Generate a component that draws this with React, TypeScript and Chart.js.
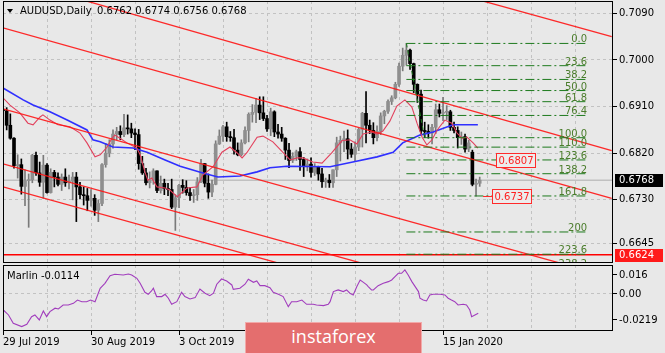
import { useEffect, useRef } from 'react';
import { Chart, registerables } from 'chart.js';
Chart.register(...registerables);

const FONT = '"DejaVu Sans", Verdana, sans-serif';

// ---- Daily AUDUSD candles (29 Jul 2019 .. 29 Jan 2020), index = bar number ----
const opens = [0.6905,0.6902,0.6874,0.6849,0.6796,0.6798,0.6756,0.6767,0.6769,0.6816,0.6782,0.6764,0.6797,0.6744,0.6783,0.6774,0.6760,0.6774,0.6763,0.6766,0.6774,0.6755,0.6740,0.6738,0.6729,0.6733,0.6710,0.6723,0.6798,0.6820,0.6838,0.6857,0.6862,0.6856,0.6869,0.6867,0.6859,0.6856,0.6800,0.6782,0.6763,0.6768,0.6786,0.6748,0.6762,0.6752,0.6750,0.6716,0.6734,0.6758,0.6754,0.6744,0.6738,0.6740,0.6765,0.6800,0.6762,0.6745,0.6760,0.6838,0.6853,0.6871,0.6852,0.6850,0.6826,0.6817,0.6840,0.6864,0.6895,0.6899,0.6913,0.6898,0.6887,0.6867,0.6900,0.6861,0.6857,0.6849,0.6826,0.6806,0.6814,0.6823,0.6808,0.6796,0.6799,0.6783,0.6794,0.6780,0.6765,0.6768,0.6763,0.6788,0.6840,0.6845,0.6848,0.6828,0.6818,0.6832,0.6866,0.6897,0.6874,0.6864,0.6850,0.6862,0.6892,0.6901,0.6920,0.6927,0.6953,0.6988,0.7009,0.7019,0.6993,0.6953,0.6934,0.6863,0.6862,0.6859,0.6870,0.6904,0.6897,0.6899,0.6900,0.6870,0.6864,0.6850,0.6852,0.6828,0.6822,0.6760,0.6762];
const highs = [0.6918,0.6908,0.6896,0.6850,0.6817,0.6809,0.6788,0.6780,0.6818,0.6822,0.6803,0.6816,0.6800,0.6790,0.6787,0.6782,0.6780,0.6790,0.6778,0.6783,0.6783,0.6764,0.6755,0.6752,0.6750,0.6740,0.6730,0.6800,0.6839,0.6846,0.6865,0.6870,0.6873,0.6895,0.6894,0.6878,0.6867,0.6866,0.6814,0.6791,0.6784,0.6790,0.6786,0.6776,0.6770,0.6762,0.6770,0.6740,0.6760,0.6769,0.6767,0.6754,0.6750,0.6773,0.6808,0.6800,0.6780,0.6768,0.6844,0.6865,0.6874,0.6880,0.6862,0.6866,0.6840,0.6846,0.6871,0.6898,0.6914,0.6926,0.6929,0.6929,0.6893,0.6907,0.6902,0.6876,0.6870,0.6850,0.6839,0.6821,0.6826,0.6831,0.6812,0.6809,0.6811,0.6800,0.6795,0.6791,0.6772,0.6779,0.6788,0.6851,0.6853,0.6863,0.6865,0.6839,0.6842,0.6868,0.6899,0.6939,0.6884,0.6879,0.6873,0.6898,0.6903,0.6923,0.6931,0.6957,0.6994,0.7023,0.7032,0.7021,0.6994,0.6954,0.6942,0.6880,0.6875,0.6876,0.6915,0.6915,0.6928,0.6912,0.6903,0.6880,0.6871,0.6861,0.6857,0.6845,0.6826,0.6770,0.6774];
const lows = [0.6887,0.6865,0.6847,0.6791,0.6772,0.6741,0.6719,0.6677,0.6763,0.6777,0.6756,0.6733,0.6743,0.6743,0.6755,0.6757,0.6748,0.6756,0.6751,0.6730,0.6688,0.6732,0.6720,0.6709,0.6718,0.6700,0.6688,0.6719,0.6793,0.6813,0.6830,0.6846,0.6846,0.6852,0.6857,0.6850,0.6827,0.6789,0.6779,0.6759,0.6753,0.6760,0.6744,0.6743,0.6740,0.6738,0.6713,0.6671,0.6715,0.6743,0.6739,0.6729,0.6725,0.6729,0.6763,0.6755,0.6733,0.6736,0.6759,0.6837,0.6843,0.6843,0.6843,0.6818,0.6815,0.6815,0.6838,0.6842,0.6880,0.6879,0.6885,0.6883,0.6862,0.6854,0.6852,0.6849,0.6843,0.6808,0.6792,0.6802,0.6806,0.6787,0.6775,0.6786,0.6774,0.6777,0.6768,0.6754,0.6754,0.6754,0.6754,0.6775,0.6805,0.6823,0.6809,0.6812,0.6805,0.6825,0.6832,0.6840,0.6858,0.6838,0.6844,0.6856,0.6877,0.6897,0.6914,0.6925,0.6949,0.6979,0.6990,0.6982,0.6937,0.6918,0.6856,0.6850,0.6849,0.6838,0.6858,0.6890,0.6883,0.6885,0.6864,0.6859,0.6830,0.6837,0.6822,0.6823,0.6757,0.6737,0.6756];
const closes = [0.6902,0.6874,0.6849,0.6796,0.6798,0.6756,0.6767,0.6769,0.6816,0.6782,0.6764,0.6797,0.6744,0.6783,0.6774,0.6760,0.6774,0.6763,0.6766,0.6774,0.6755,0.6740,0.6738,0.6729,0.6733,0.6710,0.6723,0.6798,0.6820,0.6838,0.6857,0.6862,0.6856,0.6869,0.6867,0.6859,0.6856,0.6800,0.6782,0.6763,0.6768,0.6786,0.6748,0.6762,0.6752,0.6750,0.6716,0.6734,0.6758,0.6754,0.6744,0.6738,0.6740,0.6765,0.6800,0.6762,0.6745,0.6760,0.6838,0.6853,0.6871,0.6852,0.6850,0.6826,0.6817,0.6840,0.6864,0.6895,0.6899,0.6913,0.6898,0.6887,0.6867,0.6900,0.6861,0.6857,0.6849,0.6826,0.6806,0.6814,0.6823,0.6808,0.6796,0.6799,0.6783,0.6794,0.6780,0.6765,0.6768,0.6763,0.6788,0.6840,0.6845,0.6848,0.6828,0.6818,0.6832,0.6866,0.6897,0.6874,0.6864,0.6850,0.6862,0.6892,0.6901,0.6920,0.6927,0.6953,0.6988,0.7009,0.7019,0.6993,0.6953,0.6934,0.6863,0.6862,0.6859,0.6870,0.6904,0.6897,0.6899,0.6900,0.6870,0.6864,0.6850,0.6852,0.6828,0.6840,0.6760,0.6762,0.6768];

// ---- moving averages (bar index, price) ----
const maSlowIdx = [0,5.5,8.2,12.8,17.5,22.9,24.5,26.5,30,35.5,39.3,44.2,48.3,54.5,58.6,64.6,69.3,72.8,77.4,89.2,95.4,102,106.4,109,113.7,117.3,122.7,129.5];
const maSlowVal = [0.6946,0.6923,0.6913,0.6900,0.6884,0.6865,0.6846,0.6842,0.6832,0.6830,0.6822,0.6807,0.6795,0.6782,0.6774,0.6776,0.6784,0.6792,0.6795,0.6794,0.6803,0.6813,0.6822,0.6840,0.6855,0.6861,0.6875,0.6875];
const maFastIdx = [0,1.9,4.6,6.8,8.2,10.1,10.9,12.8,15,18.3,21,22.9,25.1,26.5,28.4,29.7,30.5,31.9,33.8,36.5,37.4,38.7,39.5,40.6,42,44.2,45.5,47.5,50.2,52.9,54.5,57.3,59.7,61.9,63.8,65.2,66.5,69.3,70.9,73.6,76.4,78.3,80.2,81.8,84.5,87,89.7,92.4,94.6,96.5,98.2,100.6,102,103.6,105.5,107.4,109.6,111.5,112.9,114.3,115.6,117,118.4,120.5,122.4,123.8,125.2,126.5,128.2,129.5];
const maFastVal = [0.6927,0.6913,0.6898,0.6878,0.6875,0.6890,0.6894,0.6884,0.6875,0.6871,0.6859,0.6840,0.6813,0.6817,0.6832,0.6849,0.6855,0.6849,0.6840,0.6830,0.6817,0.6784,0.6768,0.6772,0.6755,0.6753,0.6749,0.6736,0.6753,0.6755,0.6778,0.6794,0.6822,0.6832,0.6821,0.6811,0.6821,0.6851,0.6853,0.6842,0.6821,0.6807,0.6811,0.6811,0.6803,0.6801,0.6821,0.6844,0.6846,0.6838,0.6857,0.6861,0.6857,0.6863,0.6882,0.6911,0.6923,0.6909,0.6878,0.6851,0.6836,0.6846,0.6865,0.6884,0.6878,0.6859,0.6849,0.6851,0.6840,0.6830];

// ---- Marlin oscillator ----
const marlinIdx = [0.1,1.5,2.8,5.1,6.5,7.8,8.7,9.9,11,11.9,12.8,14.2,15.1,16.4,17.8,19.2,20.3,21.5,22.8,23.9,25.1,26.5,27.8,29.2,30.5,32.8,34.2,35.1,36.5,37.4,38.7,39.6,40.5,41,41.9,43.3,44.2,45.1,46,47.4,48.7,49.6,51,52.4,53.7,55.1,56.4,57.4,58.3,59.6,61,62.4,62.8,64.6,66,66.9,68.3,69.2,70.1,71.4,72.8,73.7,75.1,76.4,77.8,78.7,80.1,81.5,82.8,84.6,85.5,87.4,88.7,89.2,90.1,91.4,92.8,93.7,94.6,95.5,96.5,97.4,98.3,99.2,99.6,100.5,101,102.3,103.7,105.1,106,106.9,107.8,108.7,109.6,110.5,111.5,112.4,113.3,113.7,114.6,115.5,116.4,117.3,119.2,120.5,121.4,122.3,123.2,124.1,125.5,126.4,127.3,127.8,128.7,129.6];
const marlinVal = [-0.0135,-0.0177,-0.0247,-0.0275,-0.0255,-0.0191,-0.0177,-0.0219,-0.0143,-0.0191,-0.0149,-0.0120,-0.0126,-0.0093,-0.0093,-0.0079,-0.0051,-0.0065,-0.0065,-0.0051,-0.0065,0.0048,0.0090,0.0154,0.0166,0.0160,0.0168,0.0160,0.0132,0.0090,0.0014,-0.0003,0.0025,0.0048,-0.0022,-0.0022,-0.0003,-0.0036,-0.0087,-0.0065,0.0014,-0.0022,-0.0042,-0.0031,0.0042,0.0006,-0.0014,0.0006,0.0082,0.0126,0.0109,0.0076,0.0039,0.0048,0.0082,0.0124,0.0098,0.0109,0.0070,0.0070,0.0053,0.0014,-0.0003,-0.0022,-0.0107,-0.0065,-0.0065,-0.0051,-0.0087,-0.0087,-0.0093,-0.0098,-0.0087,-0.0065,0.0020,0.0034,0.0020,0.0034,0.0006,-0.0008,0.0062,0.0118,0.0098,0.0076,0.0062,0.0034,0.0034,0.0070,0.0090,0.0104,0.0118,0.0146,0.0174,0.0174,0.0202,0.0160,0.0104,0.0062,0.0020,-0.0036,-0.0051,-0.0059,-0.0008,-0.0003,-0.0003,-0.0008,-0.0036,-0.0051,-0.0065,-0.0093,-0.0087,-0.0093,-0.0135,-0.0191,-0.0177,-0.0163];

// ---- channel lines: price at first and last index ----
const channelIdx = [0, 166];
const channelStart = [0.73695, 0.71598, 0.70622, 0.69058, 0.67996, 0.67552];
const channelEnd = [0.70452, 0.68249, 0.67330, 0.65803, 0.64741, 0.64297];

// ---- Fibonacci retracement ----
const fibHigh = 0.7032;
const fibLow = 0.6850;
const fibHighIdx = 110;
const fibLowIdx = 115;
const fibEndIdx = 159.3;
const fibLevels = [0, 23.6, 38.2, 50, 61.8, 76.4, 100, 110, 123.6, 138.2, 161.8, 200, 223.6, 238.2];
const fibLabels = ['0.0','23.6','38.2','50.0','61.8','76.4','100.0','110.0','123.6','138.2','161.8','200','223.6','238.2'];

// ---- axes ----
const priceTicks = [0.7090, 0.7000, 0.6910, 0.6820, 0.6730, 0.6645];
const gridIdx = [0,12,24,36,48,60,72,84,96,108,120,132,144,156];
const dateTickIdx = [0, 24, 48, 72, 96, 120];
const dateTickLabels = ['29 Jul 2019','30 Aug 2019','3 Oct 2019','6 Nov 2019','10 Dec 2019','15 Jan 2020'];
const marlinTicks = [0.016, 0, -0.0219];
const marlinTickLabels = ['0.016', '0.00', '-0.0219'];

// ---- marked prices ----
const currentPrice = 0.6768;
const supportPrice = 0.6624;
const boxPrices = [0.6807, 0.6737];
const boxIdx = [134.4, 133.4];
const boxLeadIdx = [null, 130.9];

const X_MAX = 166.35;
const GRID = '#c2c2c2';
const FIB_COLOR = '#1d7a1d';
const FIB_TEXT = '#4b7d2c';

const fibPrice = (lv: number) => fibHigh - (fibHigh - fibLow) * lv / 100;

const noPad = (s: any) => {
  s.paddingTop = 0;
  s.paddingBottom = 0;
  s.paddingLeft = 0;
  s.paddingRight = 0;
};

export default function App() {
  const mainRef = useRef<HTMLCanvasElement>(null);
  const oscRef = useRef<HTMLCanvasElement>(null);

  useEffect(() => {
    const idx = opens.map((_, i) => i);
    const isBull = (i: number) => closes[i] >= opens[i];

    const line = (data: any[], color: string, width: number, order: number, dash?: number[]) => ({
      type: 'line' as const,
      data,
      borderColor: color,
      borderWidth: width,
      borderDash: dash || [],
      pointRadius: 0,
      tension: 0,
      fill: false,
      order,
    });

    const datasets: any[] = [];
    fibLevels.forEach((lv) => {
      datasets.push(line([{ x: fibHighIdx, y: fibPrice(lv) }, { x: fibEndIdx, y: fibPrice(lv) }], FIB_COLOR, 1, 1, [9, 3, 2, 3]));
    });
    datasets.push(line([{ x: fibHighIdx, y: fibHigh }, { x: fibLowIdx, y: fibLow }], FIB_COLOR, 1, 1, [4, 3]));
    channelStart.forEach((p, i) => {
      datasets.push(line([{ x: channelIdx[0], y: p }, { x: channelIdx[1], y: channelEnd[i] }], 'rgba(255,20,20,0.9)', 1.3, 2));
    });
    datasets.push(line([{ x: 0, y: supportPrice }, { x: X_MAX, y: supportPrice }], '#ff0000', 1.5, 2));
    datasets.push(line(maFastIdx.map((x, i) => ({ x, y: maFastVal[i] })), '#e2405c', 1.1, 3));
    datasets.push(line(maSlowIdx.map((x, i) => ({ x, y: maSlowVal[i] })), '#2f2fff', 1.6, 3));
    datasets.push({
      type: 'bar',
      data: idx.map((i) => ({ x: i, y: [Math.min(opens[i], closes[i]), Math.max(opens[i], closes[i])] })),
      backgroundColor: (c: any) => (isBull(c.dataIndex) ? '#8f8f8f' : '#000000'),
      borderWidth: 0,
      barThickness: 3,
      minBarLength: 1,
      grouped: false,
      order: 4,
    });
    datasets.push({
      type: 'bar',
      data: idx.map((i) => ({ x: i, y: [lows[i], highs[i]] })),
      backgroundColor: (c: any) => (isBull(c.dataIndex) ? '#7a7a7a' : '#000000'),
      borderWidth: 0,
      barThickness: 1,
      minBarLength: 1,
      grouped: false,
      order: 5,
    });
    datasets.push(line([{ x: 0, y: currentPrice }, { x: X_MAX, y: currentPrice }], '#acacac', 1, 6));

    const frame = {
      id: 'frame',
      afterDraw(chart: any) {
        const { ctx, chartArea: ca } = chart;
        ctx.save();
        ctx.strokeStyle = '#000';
        ctx.lineWidth = 1;
        ctx.strokeRect(ca.left + 0.5, ca.top + 0.5, ca.width - 1, ca.height - 1);
        ctx.restore();
      },
    };

    const mainOverlay = {
      id: 'mainOverlay',
      afterDatasetsDraw(chart: any) {
        const { ctx, chartArea: ca, scales } = chart;
        const xs = scales.x;
        const ys = scales.y;
        ctx.save();
        ctx.beginPath();
        ctx.rect(ca.left, ca.top, ca.width, ca.height);
        ctx.clip();
        ctx.font = `10px ${FONT}`;
        ctx.fillStyle = FIB_TEXT;
        ctx.textAlign = 'right';
        ctx.textBaseline = 'alphabetic';
        const lx = xs.getPixelForValue(fibEndIdx);
        fibLevels.forEach((lv, i) => {
          const y = ys.getPixelForValue(fibPrice(lv));
          ctx.fillText(fibLabels[i], lx, y - 1);
        });
        ctx.textAlign = 'left';
        ctx.textBaseline = 'middle';
        boxPrices.forEach((p, i) => {
          const y = Math.round(ys.getPixelForValue(p)) + 0.5;
          const x = Math.round(xs.getPixelForValue(boxIdx[i])) + 0.5;
          const txt = p.toFixed(4);
          const w = ctx.measureText(txt).width + 4;
          const lead = boxLeadIdx[i];
          ctx.strokeStyle = '#ff2a2a';
          ctx.lineWidth = 1;
          if (lead !== null) {
            ctx.beginPath();
            ctx.moveTo(xs.getPixelForValue(lead), y);
            ctx.lineTo(x, y);
            ctx.stroke();
          }
          ctx.fillStyle = '#ececec';
          ctx.fillRect(x, y - 7, w, 14);
          ctx.strokeRect(x, y - 7, w, 14);
          ctx.fillStyle = '#ff2020';
          ctx.fillText(txt, x + 2, y + 0.5);
        });
        ctx.restore();
      },
      afterDraw(chart: any) {
        const { ctx, chartArea: ca, scales } = chart;
        const ys = scales.y;
        ctx.save();
        ctx.font = `10px ${FONT}`;
        ctx.textAlign = 'left';
        ctx.textBaseline = 'middle';
        const boxes = [
          { p: currentPrice, bg: '#000000' },
          { p: supportPrice, bg: '#ff1a1a' },
        ];
        boxes.forEach((b) => {
          const y = Math.round(ys.getPixelForValue(b.p));
          ctx.fillStyle = b.bg;
          ctx.fillRect(ca.right + 2, y - 6, 48, 13);
          ctx.fillStyle = '#ffffff';
          ctx.fillText(b.p.toFixed(4), ca.right + 6, y + 0.5);
        });
        ctx.restore();
      },
    };

    const c1 = new Chart(mainRef.current as HTMLCanvasElement, {
      type: 'bar',
      data: { datasets },
      options: {
        responsive: false,
        animation: false,
        devicePixelRatio: 1,
        events: [],
        layout: { padding: { left: 3, top: 1, right: 0, bottom: 1 } },
        plugins: { legend: { display: false }, tooltip: { enabled: false } },
        scales: {
          x: {
            type: 'linear',
            min: 0,
            max: X_MAX,
            offset: false,
            grid: { color: GRID, drawTicks: false, offset: false },
            border: { display: false, dash: [3, 3] },
            ticks: { display: false },
            afterBuildTicks: (s: any) => { s.ticks = gridIdx.map((v) => ({ value: v })); },
            afterFit: (s: any) => { s.height = 0; noPad(s); },
          },
          y: {
            type: 'linear',
            position: 'right',
            min: 0.66081,
            max: 0.71139,
            grid: { color: GRID, drawTicks: true, tickLength: 4, tickColor: '#000' },
            border: { display: false, dash: [3, 3] },
            ticks: { color: '#000', padding: 2, font: { family: FONT, size: 10 }, callback: (v: any) => Number(v).toFixed(4) },
            afterBuildTicks: (s: any) => { s.ticks = priceTicks.map((v) => ({ value: v })); },
            afterFit: (s: any) => { s.width = 52; noPad(s); },
          },
        },
      } as any,
      plugins: [mainOverlay, frame],
    });

    const c2 = new Chart(oscRef.current as HTMLCanvasElement, {
      type: 'line',
      data: {
        datasets: [
          line(marlinIdx.map((x, i) => ({ x, y: marlinVal[i] })), '#a13dbd', 1.1, 1),
        ],
      },
      options: {
        responsive: false,
        animation: false,
        devicePixelRatio: 1,
        events: [],
        layout: { padding: { left: 3, top: 1, right: 0, bottom: 0 } },
        plugins: { legend: { display: false }, tooltip: { enabled: false } },
        scales: {
          x: {
            type: 'linear',
            min: 0,
            max: X_MAX,
            grid: {
              color: GRID,
              drawTicks: true,
              tickLength: 4,
              tickColor: (c: any) => (c.tick && dateTickIdx.includes(c.tick.value) ? '#000' : 'rgba(0,0,0,0)'),
            },
            border: { display: false, dash: [3, 3] },
            ticks: {
              autoSkip: false,
              maxRotation: 0,
              minRotation: 0,
              align: 'start',
              padding: 1,
              color: '#000',
              font: { family: FONT, size: 10 },
              callback: (v: any) => {
                const k = dateTickIdx.indexOf(Number(v));
                return k >= 0 ? dateTickLabels[k] : '';
              },
            },
            afterBuildTicks: (s: any) => { s.ticks = gridIdx.map((v) => ({ value: v })); },
            afterFit: (s: any) => { s.height = 22; noPad(s); },
          },
          y: {
            type: 'linear',
            position: 'right',
            min: -0.0312,
            max: 0.0244,
            grid: {
              color: (c: any) => (c.tick && c.tick.value === 0 ? GRID : 'rgba(0,0,0,0)'),
              drawTicks: true,
              tickLength: 4,
              tickColor: '#000',
            },
            border: { display: false, dash: [3, 3] },
            ticks: {
              color: '#000',
              padding: 2,
              font: { family: FONT, size: 10 },
              callback: (v: any) => {
                const k = marlinTicks.indexOf(Number(v));
                return k >= 0 ? marlinTickLabels[k] : '';
              },
            },
            afterBuildTicks: (s: any) => { s.ticks = marlinTicks.map((v) => ({ value: v })); },
            afterFit: (s: any) => { s.width = 52; noPad(s); },
          },
        },
      } as any,
      plugins: [frame],
    });

    return () => {
      c1.destroy();
      c2.destroy();
    };
  }, []);

  const txt: any = { position: 'absolute', fontFamily: FONT, fontSize: 10, lineHeight: '12px', color: '#000', whiteSpace: 'nowrap' };

  return (
    <div style={{ position: 'fixed', left: 0, top: 0, width: 665, height: 353, background: '#e8e8e8', overflow: 'hidden' }}>
      <canvas ref={mainRef} width={665} height={264} style={{ position: 'absolute', left: 0, top: 0 }} />
      <canvas ref={oscRef} width={665} height={89} style={{ position: 'absolute', left: 0, top: 264 }} />
      <div style={{ position: 'absolute', left: 7, top: 9, width: 0, height: 0, borderLeft: '3px solid transparent', borderRight: '3px solid transparent', borderTop: '4px solid #000' }} />
      <div style={{ ...txt, left: 20, top: 5 }}>AUDUSD,Daily</div>
      <div style={{ ...txt, left: 97, top: 5 }}>0.6762 0.6774 0.6756 0.6768</div>
      <div style={{ ...txt, left: 7, top: 270 }}>Marlin -0.0114</div>
      <div
        style={{
          position: 'absolute', left: 245, top: 322, width: 175, height: 30,
          background: '#e46e6e', border: '1px solid #f2a9a9',
          color: '#fff', fontFamily: '"Open Sans", sans-serif', fontSize: 18,
          lineHeight: '27px', textAlign: 'center',
        }}
      >
        instaforex
      </div>
    </div>
  );
}
